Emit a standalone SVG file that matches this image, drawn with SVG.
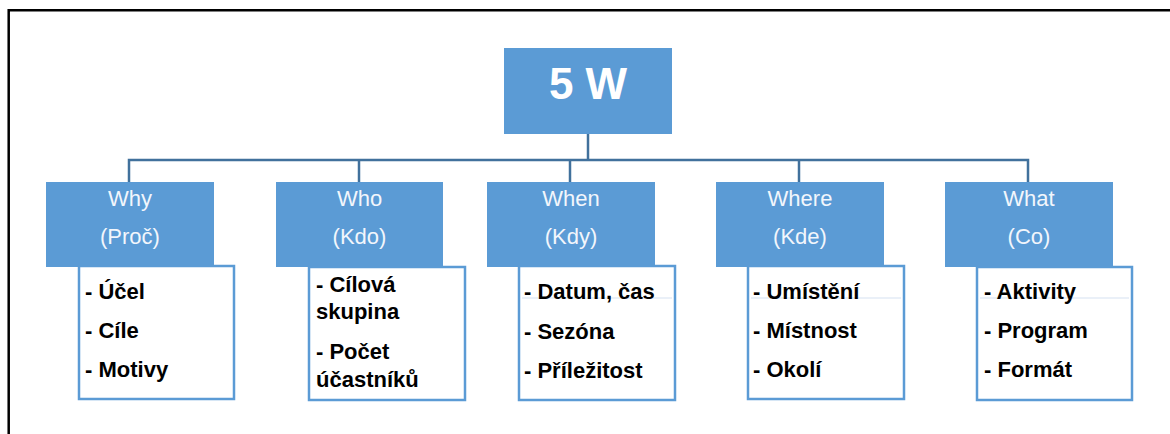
<svg xmlns="http://www.w3.org/2000/svg" width="1170" height="434" viewBox="0 0 1170 434">
  <style>
    .frame { fill: none; stroke: #000; stroke-width: 2.5; }
    .head { fill: #5B9BD5; }
    .box { fill: #fff; stroke: #5B9BD5; stroke-width: 2.5; }
    .rule { stroke: #EAF0F8; stroke-width: 2; }
    .conn { fill: none; stroke: #41719C; stroke-width: 2.5; }
    .title { font-family: "Liberation Sans", Arial, sans-serif; font-weight: bold; font-size: 44px; fill: #fff; text-anchor: middle; }
    .cat { font-family: "Liberation Sans", Arial, sans-serif; font-size: 22px; fill: #F2F6FC; text-anchor: middle; }
    .item { font-family: "Liberation Sans", Arial, sans-serif; font-weight: bold; font-size: 22px; fill: #000; }
  </style>

  <rect width="1170" height="434" fill="#fff"/>
  <!-- outer frame: top and left edges only -->
  <path class="frame" d="M8.7,434 V10.3 H1170"/>

  <!-- connectors -->
  <g id="connectors">
    <path class="conn" d="M588,134 V160"/>
    <path class="conn" d="M129,182 V160 H1028 V182"/>
    <path class="conn" d="M359,160 V182"/>
    <path class="conn" d="M570,160 V182"/>
    <path class="conn" d="M799,160 V182"/>
  </g>

  <g id="root">
    <rect class="head" x="504" y="48" width="168" height="86"/>
    <text class="title" x="588" y="99">5 W</text>
  </g>

  <g id="why">
    <rect class="box" x="79" y="266" width="155" height="133"/>
    <rect class="head" x="46" y="182" width="168" height="85"/>
    <text class="cat" x="130" y="206">Why</text>
    <text class="cat" x="130" y="244">(Proč)</text>
    <text class="item" x="85" y="299">- Účel</text>
    <text class="item" x="85" y="338">- Cíle</text>
    <text class="item" x="85" y="377">- Motivy</text>
  </g>

  <g id="who">
    <rect class="box" x="309" y="267" width="156" height="133"/>
    <rect class="head" x="276" y="182" width="167" height="85"/>
    <text class="cat" x="359.5" y="206">Who</text>
    <text class="cat" x="359.5" y="244">(Kdo)</text>
    <text class="item" x="316" y="292">- Cílová</text>
    <text class="item" x="316" y="319">skupina</text>
    <text class="item" x="316" y="359">- Počet</text>
    <text class="item" x="316" y="387">účastníků</text>
  </g>

  <g id="when">
    <rect class="box" x="519" y="266" width="156" height="134"/>
    <line class="rule" x1="522" y1="298" x2="672" y2="298"/>
    <rect class="head" x="487" y="182" width="168" height="85"/>
    <text class="cat" x="571" y="206">When</text>
    <text class="cat" x="571" y="244">(Kdy)</text>
    <text class="item" x="524" y="299">- Datum, čas</text>
    <text class="item" x="524" y="339">- Sezóna</text>
    <text class="item" x="524" y="378">- Příležitost</text>
  </g>

  <g id="where">
    <rect class="box" x="748" y="266" width="156" height="133"/>
    <line class="rule" x1="751" y1="298" x2="901" y2="298"/>
    <rect class="head" x="716" y="182" width="168" height="85"/>
    <text class="cat" x="800" y="206">Where</text>
    <text class="cat" x="800" y="244">(Kde)</text>
    <text class="item" x="753" y="299">- Umístění</text>
    <text class="item" x="753" y="338">- Místnost</text>
    <text class="item" x="753" y="377">- Okolí</text>
  </g>

  <g id="what">
    <rect class="box" x="977" y="267" width="155" height="133"/>
    <line class="rule" x1="980" y1="298" x2="1129" y2="298"/>
    <rect class="head" x="945" y="182" width="168" height="85"/>
    <text class="cat" x="1029" y="206">What</text>
    <text class="cat" x="1029" y="244">(Co)</text>
    <text class="item" x="984" y="299">- Aktivity</text>
    <text class="item" x="984" y="338">- Program</text>
    <text class="item" x="984" y="377">- Formát</text>
  </g>
</svg>
